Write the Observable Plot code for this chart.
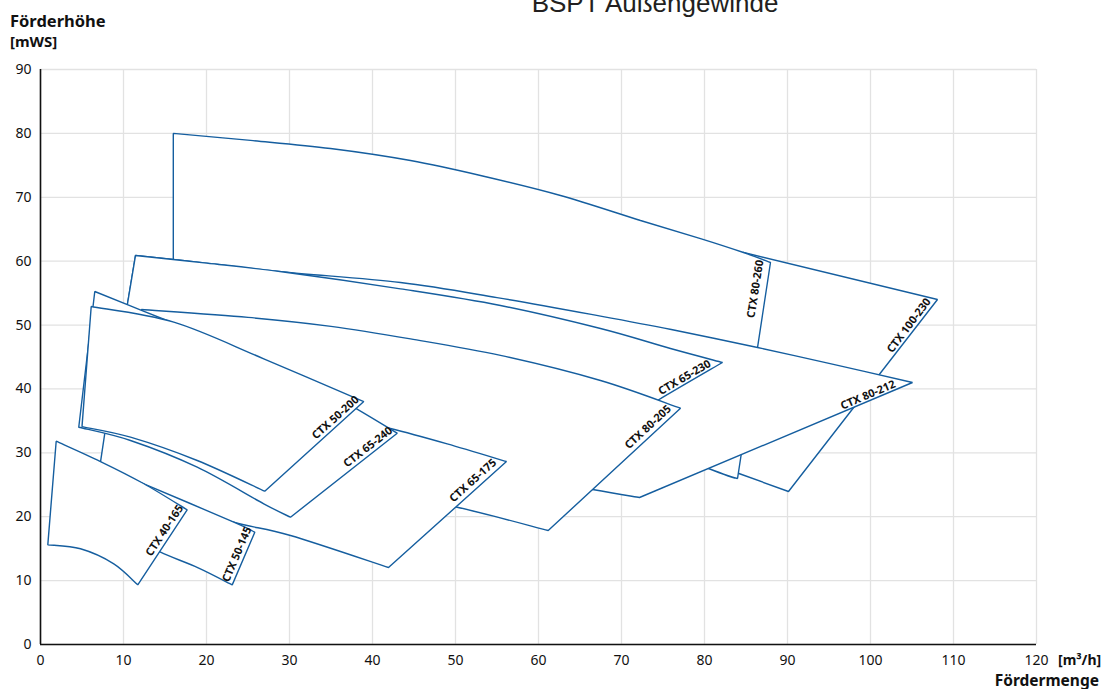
<!DOCTYPE html>
<html>
<head>
<meta charset="utf-8">
<script src="https://cdn.jsdelivr.net/npm/d3@7"></script>
<script src="https://cdn.jsdelivr.net/npm/@observablehq/plot@0.6"></script>
<style>
  html, body { margin: 0; padding: 0; background: #fff; }
  #wrap { position: relative; width: 1102px; height: 689px; overflow: hidden; }
  #wrap svg.overlay { position: absolute; left: 0; top: 0; pointer-events: none; }
</style>
</head>
<body>
<div id="wrap"></div>
<script>
// ---- data (Q in m³/h, H in mWS) ----
const xTicks = [0, 10, 20, 30, 40, 50, 60, 70, 80, 90, 100, 110, 120];
const yTicks = [0, 10, 20, 30, 40, 50, 60, 70, 80, 90];

const CTX_100_230 = [[84.7,61.36],[108.07,54.0],[90.12,23.95],[84.06,26.8],[81,29],[81,60]];
const CTX_80_260 = [[16,80],[25.3,78.9],[34.94,77.63],[44.58,75.75],[53.01,73.41],[62.65,70.28],[72.29,66.37],[79.52,63.54],[84.7,61.36],[87.95,59.79],[83.98,25.98],[80.48,27.55],[60,38],[35,48],[16,56]];
const CTX_80_212 = [[11.45,60.89],[20,59.7],[29.28,58.3],[43.37,56.66],[55,54.3],[67.47,51.4],[76,49.3],[86.39,46.49],[95,44.0],[105.06,41.01],[72.17,23.01],[66.51,24.26],[55,27],[35,34],[15,42],[11,46],[10.45,53.06]];
const CTX_65_230 = [[11.45,60.89],[20,59.7],[29.28,58.3],[43.37,55.67],[55.42,53.06],[67.47,49.46],[75.9,46.33],[82.17,44.14],[74.34,38.19],[64,30],[40,37],[15,44],[10.45,53.06]];
const CTX_80_205 = [[12.17,52.43],[25,51.2],[35,49.8],[44.58,47.84],[55.42,45.25],[67.47,41.32],[77.11,36.99],[61.17,17.84],[50.2,21.49],[40,24],[20,28.5],[10,31],[11,42]];
const CTX_65_175 = [[8.2,37],[20,36.6],[30,35.9],[38,34.9],[42.17,33.81],[49,31.4],[56.14,28.64],[41.93,12.05],[30.12,17.06],[23.29,19.14],[15,22.5],[7.2,28.3]];
const CTX_65_240 = [[6.54,55.25],[12.17,52.31],[19.28,48.6],[25,45.5],[31.33,41.63],[37,37.7],[42.98,33.07],[30.12,19.92],[26.9,22.02],[18.88,27.75],[10.84,31.93],[4.61,34.01]];
const CTX_50_200 = [[6.11,52.9],[16.06,50.45],[26.9,44.72],[38.95,38.03],[27.02,23.99],[18.88,28.8],[10.84,32.45],[5.0,34.1]];
const CTX_50_145 = [[10.2,26.2],[12.45,25.15],[23.29,19.14],[25.82,17.58],[23.1,9.33],[19,12.0],[14.46,14.45],[12,16.5],[10,22]];
const CTX_40_165 = [[1.89,31.82],[7.23,28.64],[12.41,25.2],[17.67,21.08],[11.72,9.34],[8.83,12.63],[4.82,14.98],[0.88,15.6]];

// drawing order (back to front) and the indices of each outline's sharp corners
const curves = [CTX_100_230, CTX_80_260, CTX_80_212, CTX_65_230, CTX_80_205, CTX_65_175, CTX_65_240, CTX_50_200, CTX_50_145, CTX_40_165];
const corners = [[0,1,2,3,4,5],[0,9,10,14],[0,9,10,15,16],[0,7,9,12],[0,6,7,11,12],[0,6,7,11],[0,6,7,11],[0,3,4,7],[0,3,4,8],[0,3,4,7]];

const labelNames = ["CTX 100-230","CTX 80-260","CTX 80-212","CTX 65-230","CTX 80-205","CTX 65-175","CTX 65-240","CTX 50-200","CTX 50-145","CTX 40-165"];
const labelX = [104.64, 86.14, 99.7, 77.59, 73.19, 52.1, 39.46, 35.54, 23.67, 14.94];
const labelY = [49.93, 55.64, 39.05, 41.79, 34.04, 25.67, 30.91, 35.53, 14.1, 17.84];
const labelAngle = [-53, -81, -23, -30, -43, -42, -38, -42, -67, -56.5];

// ---- smooth curve between sharp corners (Catmull-Rom segments) ----
function cornerCurve(cornerIdx) {
  return function(context) {
    let pts = [];
    return {
      areaStart() {}, areaEnd() {},
      lineStart() { pts = []; },
      point(x, y) { pts.push([+x, +y]); },
      lineEnd() {
        if (!pts.length) return;
        const cs = cornerIdx.concat([pts.length - 1]);
        context.moveTo(pts[0][0], pts[0][1]);
        for (let k = 0; k < cs.length - 1; k++) {
          const run = pts.slice(cs[k], cs[k + 1] + 1);
          if (run.length <= 2) { const e = run[run.length - 1]; context.lineTo(e[0], e[1]); continue; }
          for (let i = 0; i < run.length - 1; i++) {
            const p0 = run[i - 1] || run[i], p1 = run[i], p2 = run[i + 1], p3 = run[i + 2] || run[i + 1];
            context.bezierCurveTo(
              p1[0] + (p2[0] - p0[0]) / 6, p1[1] + (p2[1] - p0[1]) / 6,
              p2[0] - (p3[0] - p1[0]) / 6, p2[1] - (p3[1] - p1[1]) / 6,
              p2[0], p2[1]);
          }
        }
        context.closePath();
      }
    };
  };
}

// ---- chart ----
const BLUE = "#155e9f";
const closed = pts => pts.concat([pts[0]]);
const labels = labelNames.map((t, i) => ({t, x: labelX[i], y: labelY[i], a: labelAngle[i]}));

const chart = Plot.plot({
  width: 1102,
  height: 689,
  marginTop: 69,
  marginLeft: 40,
  marginRight: 66,
  marginBottom: 45,
  style: {fontFamily: "'Noto Sans', sans-serif", fontSize: "14px", color: "#111", background: "#fff"},
  x: {domain: [0, 120], ticks: xTicks},
  y: {domain: [0, 90], ticks: yTicks},
  marks: [
    Plot.gridX(xTicks, {stroke: "#e2e2e2", strokeOpacity: 1, strokeWidth: 1.3}),
    Plot.gridY(yTicks, {stroke: "#e2e2e2", strokeOpacity: 1, strokeWidth: 1.3}),
    ...curves.map((c, i) => Plot.line(closed(c), {x: d => d[0], y: d => d[1], curve: cornerCurve(corners[i]), fill: "#fff", stroke: BLUE, strokeWidth: 1.4, strokeLinejoin: "miter"})),
    Plot.text(labels, {x: "x", y: "y", text: "t", rotate: "a", fontSize: 11, fontWeight: "bold", fill: "#111"}),
    Plot.ruleX([0], {stroke: "#111", strokeWidth: 1.6}),
    Plot.ruleY([0], {stroke: "#111", strokeWidth: 1.6}),
    Plot.axisX(xTicks, {tickSize: 0, tickPadding: 11, label: null, fontSize: 14}),
    Plot.axisY(yTicks, {tickSize: 0, tickPadding: 9, label: null, fontSize: 14})
  ]
});

const wrap = document.getElementById("wrap");
wrap.appendChild(chart);

// ---- titles ----
const ns = "http://www.w3.org/2000/svg";
const ov = document.createElementNS(ns, "svg");
ov.setAttribute("class", "overlay");
ov.setAttribute("width", 1102);
ov.setAttribute("height", 689);
function addText(str, x, y, opts) {
  const t = document.createElementNS(ns, "text");
  t.setAttribute("x", x);
  t.setAttribute("y", y);
  for (const k in opts) t.setAttribute(k, opts[k]);
  t.textContent = str;
  ov.appendChild(t);
}
const bold = {"font-family": "'Noto Sans', sans-serif", "font-weight": "bold", fill: "#111"};
addText("BSPT Außengewinde", 655, 11.7, {"font-family": "'Liberation Sans', Arial, sans-serif", "font-size": 26, fill: "#231f20", "text-anchor": "middle"});
addText("Förderhöhe", 10, 27, {...bold, "font-size": 16.5});
addText("[mWS]", 10, 47, {...bold, "font-size": 15});
addText("[m³/h]", 1058, 665, {...bold, "font-size": 14});
addText("Fördermenge", 1099, 685.5, {...bold, "font-size": 15.5, "text-anchor": "end"});
wrap.appendChild(ov);
</script>
</body>
</html>
